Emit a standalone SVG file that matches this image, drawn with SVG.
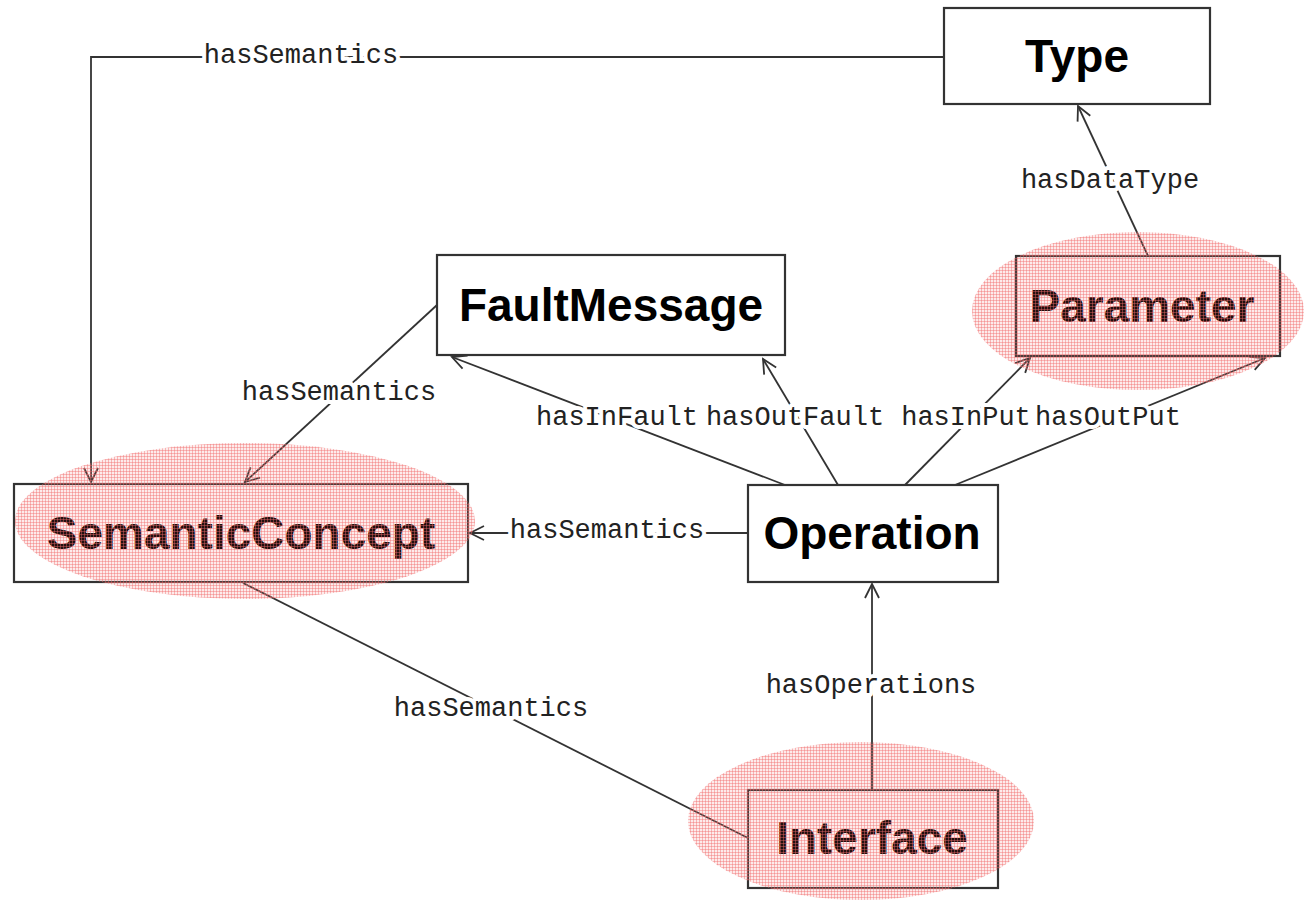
<svg xmlns="http://www.w3.org/2000/svg" width="1304" height="903" viewBox="0 0 1304 903">
<style>
.box{fill:#fff;stroke:#333;stroke-width:2.2}
.nt{font-family:"Liberation Sans",Arial,sans-serif;font-weight:bold;font-size:46px;fill:#000;text-anchor:middle;dominant-baseline:central}
.ln{fill:none;stroke:#333;stroke-width:1.8}
.lb{font-family:"Liberation Mono","Courier New",monospace;font-size:27px;fill:#222;text-anchor:middle;dominant-baseline:central;stroke:#fff;stroke-width:8;paint-order:stroke;stroke-linejoin:round}
.hl{fill:url(#hatch)}
</style>
<defs>
<pattern id="hatch" width="3" height="3" patternUnits="userSpaceOnUse">
<rect width="3" height="3" fill="#f07070" fill-opacity="0.14"/>
<path d="M0,0.5H3M0.5,0V3" stroke="#f06a6a" stroke-opacity="0.42" stroke-width="1"/>
</pattern>
<marker id="arr" markerWidth="18" markerHeight="18" refX="16" refY="9" orient="auto" markerUnits="userSpaceOnUse">
<path d="M2,2 L16,9 L2,16" fill="none" stroke="#333" stroke-width="1.8"/>
</marker>
</defs>

<g id="connectors">
<path class="ln" d="M944,57 H91 V482" marker-end="url(#arr)"/>
<path class="ln" d="M437,305 L245,482" marker-end="url(#arr)"/>
<path class="ln" d="M748,533 L470,533" marker-end="url(#arr)"/>
<path class="ln" d="M748,838 L243,583"/>
<path class="ln" d="M872,790 L872,584" marker-end="url(#arr)"/>
<path class="ln" d="M785,485 L452,357" marker-end="url(#arr)"/>
<path class="ln" d="M838,485 L763,359" marker-end="url(#arr)"/>
<path class="ln" d="M905,485 L1030,358" marker-end="url(#arr)"/>
<path class="ln" d="M955,485 L1265,358" marker-end="url(#arr)"/>
<path class="ln" d="M1148,256 L1078,106" marker-end="url(#arr)"/>
<text class="lb" x="301" y="56">hasSemantics</text>
<text class="lb" x="339" y="393">hasSemantics</text>
<text class="lb" x="607" y="531">hasSemantics</text>
<text class="lb" x="491" y="709">hasSemantics</text>
<text class="lb" x="871" y="686">hasOperations</text>
<text class="lb" x="617" y="418">hasInFault</text>
<text class="lb" x="795" y="418">hasOutFault</text>
<text class="lb" x="966" y="418">hasInPut</text>
<text class="lb" x="1108" y="418">hasOutPut</text>
<text class="lb" x="1110" y="181">hasDataType</text>
</g>

<g id="Type">
<rect class="box" x="944" y="8" width="266" height="96"/>
<text class="nt" x="1077" y="56">Type</text>
</g>
<g id="FaultMessage">
<rect class="box" x="437" y="255" width="348" height="100"/>
<text class="nt" x="611" y="305">FaultMessage</text>
</g>
<g id="Parameter">
<rect class="box" x="1016" y="256" width="264" height="100"/>
<text class="nt" x="1142" y="306">Parameter</text>
<ellipse class="hl" cx="1138" cy="311" rx="166" ry="79"/>
</g>
<g id="SemanticConcept">
<rect class="box" x="14" y="484" width="454" height="98"/>
<text class="nt" x="241" y="533">SemanticConcept</text>
<ellipse class="hl" cx="245" cy="521" rx="230" ry="78"/>
</g>
<g id="Operation">
<rect class="box" x="748" y="485" width="250" height="97"/>
<text class="nt" x="872" y="533">Operation</text>
</g>
<g id="Interface">
<rect class="box" x="748" y="790" width="250" height="98"/>
<text class="nt" x="872" y="838">Interface</text>
<ellipse class="hl" cx="861" cy="821" rx="173" ry="79"/>
</g>
</svg>
